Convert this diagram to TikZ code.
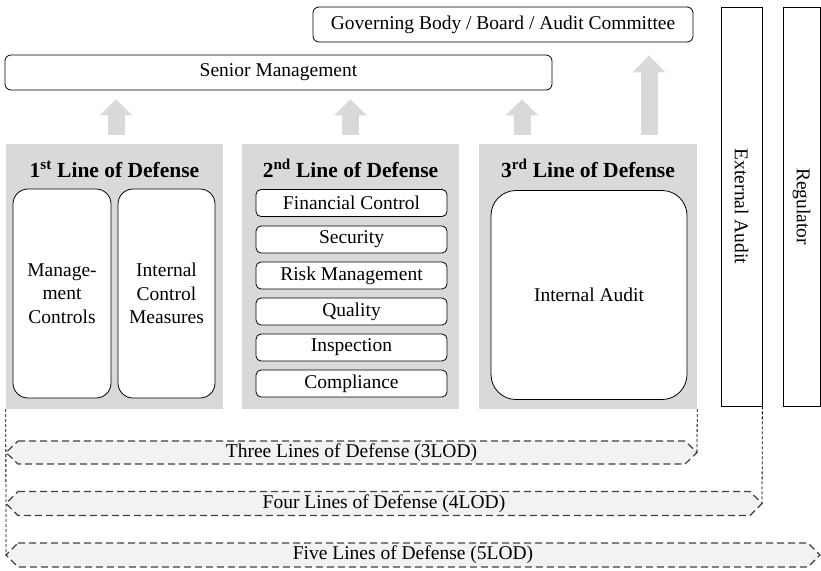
\documentclass[tikz,border=0pt]{standalone}
\usepackage{fontspec}
\setmainfont{Liberation Serif}
\usetikzlibrary{arrows.meta}
\definecolor{panelgray}{HTML}{D9D9D9}
\definecolor{bannerfill}{HTML}{F2F2F2}
\definecolor{dashgray}{HTML}{404040}
\begin{document}
\begin{tikzpicture}[x=1pt,y=-1pt,
  font=\fontsize{19.5}{23.5}\selectfont,
  box/.style={draw, line width=0.8pt, rounded corners=6pt, inner sep=0pt, fill=white},
  panel/.style={fill=panelgray, inner sep=0pt, minimum width=217pt, minimum height=265pt},
  ttl/.style={anchor=base, font=\bfseries\fontsize{21.5}{25}\selectfont},
  sbox/.style={box, rounded corners=5pt, minimum width=191pt, minimum height=27pt},
  tallbox/.style={draw, line width=0.8pt, inner sep=0pt, minimum height=399pt},
  garrow/.style={draw=panelgray, line width=17pt, shorten <=9pt},
  banner/.style={fill=bannerfill, draw=dashgray, line width=1.2pt, dash pattern=on 7pt off 4pt},
  vdash/.style={draw=black, line width=0.8pt, dash pattern=on 3pt off 2pt}]
\useasboundingbox (0,0) rectangle (821,570);

% top boxes
\node[box, minimum width=380pt, minimum height=35pt] (gov) at (503,24.5) {Governing Body / Board / Audit Committee};
\node[box, minimum width=547pt, minimum height=35pt] (senior) at (278.5,72.5) {Senior Management};

% panels
\node[panel] (p1) at (114.5,276.5) {};
\node[panel] (p2) at (350.5,276.5) {};
\node[panel, minimum width=218pt] (p3) at (588,276.5) {};

\node[ttl] (t1) at (114.5,177) {1\textsuperscript{st} Line of Defense};
\node[ttl] (t2) at (350.5,177) {2\textsuperscript{nd} Line of Defense};
\node[ttl] (t3) at (588,177) {3\textsuperscript{rd} Line of Defense};

% 1st line
\node[box, rounded corners=15pt, minimum width=98pt, minimum height=209pt, align=center] (mc) at (62,293.5) {Manage-\\ment\\Controls};
\node[box, rounded corners=15pt, minimum width=97pt, minimum height=209pt, align=center] (icm) at (166.5,293.5) {Internal\\Control\\Measures};

% 2nd line
\node[sbox] (fc) at (351.5,203) {Financial Control};
\node[sbox] (sec) at (351.5,239.5) {Security};
\node[sbox] (rm) at (351.5,275.5) {Risk Management};
\node[sbox] (qu) at (351.5,311.5) {Quality};
\node[sbox] (ins) at (351.5,347.5) {Inspection};
\node[sbox] (com) at (351.5,383.5) {Compliance};

% 3rd line
\node[box, rounded corners=25pt, minimum width=196pt, minimum height=209pt] (ia) at (589,295) {Internal Audit};

% external audit / regulator
\node[tallbox, minimum width=41pt] (ext) at (741.5,206.5) {};
\node[rotate=-90] (extt) at (ext.center) {External Audit};
\node[tallbox, minimum width=37pt] (reg) at (801.5,206.5) {};
\node[rotate=-90] (regt) at (reg.center) {Regulator};

% arrows
\coordinate (a1) at (116,0);
\coordinate (a2) at (350.5,0);
\coordinate (a3) at (522,0);
\coordinate (a4) at (649,0);
\draw[garrow, shorten >=9pt, -{Triangle[width=32pt,length=16pt]}] (p1.north -| a1) -- (senior.south -| a1);
\draw[garrow, shorten >=9pt, -{Triangle[width=32pt,length=16pt]}] (p2.north -| a2) -- (senior.south -| a2);
\draw[garrow, shorten >=9pt, -{Triangle[width=32pt,length=16pt]}] (p3.north -| a3) -- (senior.south -| a3);
\draw[garrow, shorten >=13pt, -{Triangle[width=32pt,length=17pt]}] (p3.north -| a4) -- (gov.south -| a4);

% banners
\coordinate (l3L) at (6,452.5);   \coordinate (l3R) at (697,452.5);
\coordinate (l4L) at (6,503.5);   \coordinate (l4R) at (762,503.5);
\coordinate (l5L) at (6,555);     \coordinate (l5R) at (820,555);
\path[banner] (18,441) -- (685,441) -- (l3R) -- (685,464) -- (18,464) -- (l3L) -- cycle;
\path[banner] (18,491.5) -- (750,491.5) -- (l4R) -- (750,515.5) -- (18,515.5) -- (l4L) -- cycle;
\path[banner] (18,543) -- (808,543) -- (l5R) -- (808,567) -- (18,567) -- (l5L) -- cycle;
\node (lod3) at (351.5,452.5) {Three Lines of Defense (3LOD)};
\node (lod4) at (384,503.5) {Four Lines of Defense (4LOD)};
\node (lod5) at (413,555) {Five Lines of Defense (5LOD)};

% dashed connectors
\draw[vdash] (p1.south west) -- (l5L);
\draw[vdash] (p3.south east) -- (l3R);
\draw[vdash] (ext.south east) -- (l4R);
\end{tikzpicture}
\end{document}
